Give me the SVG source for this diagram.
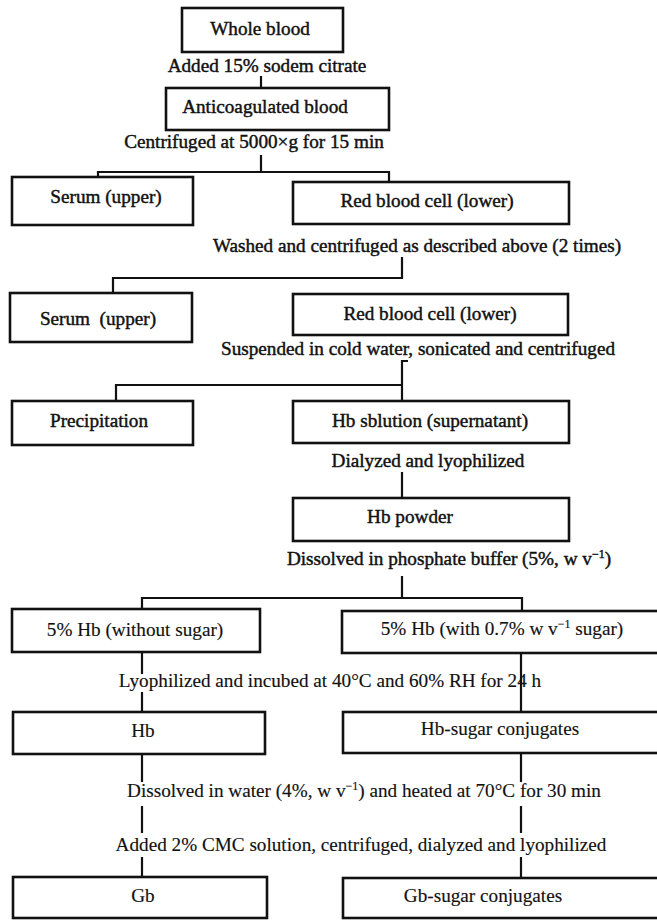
<svg xmlns="http://www.w3.org/2000/svg" width="657" height="920" viewBox="0 0 657 920">
<style>
.box{fill:#fff;stroke:#111;stroke-width:2.6}
.t{font-family:"Liberation Serif","Times New Roman",serif;font-size:19.2px;fill:#111;stroke:#111;stroke-width:0.45;text-anchor:middle}
.r{stroke-width:0.15}
.c{stroke:#111;stroke-width:2.2;fill:none}
</style>
<rect width="657" height="920" fill="#fff"/>
<g id="connectors">
<path class="c" d="M261 76V88"/>
<path class="c" d="M261 155V172M98 177V172H389V182"/>
<path class="c" d="M402 257V278H113V293"/>
<path class="c" d="M408 361H402V401M402 385H116V401"/>
<path class="c" d="M402 472V498"/>
<path class="c" d="M402 576V598M142 609V598H522V611"/>
<path class="c" d="M142 652V674M142 692V712M521 653V712"/>
<path class="c" d="M142 754V782M142 806V833M142 857V877"/>
<path class="c" d="M521 753V782M521 806V833M521 857V878"/>
</g>
<g id="labels">
<text class="t" x="267" y="72">Added 15% sodem citrate</text>
<text class="t" x="254" y="148">Centrifuged at 5000×g for 15 min</text>
<text class="t" x="417" y="252">Washed and centrifuged as described above (2 times)</text>
<text class="t" x="418" y="355">Suspended in cold water, sonicated and centrifuged</text>
<text class="t" x="428" y="467">Dialyzed and lyophilized</text>
<text class="t" x="449" y="565">Dissolved in phosphate buffer (5%, w v<tspan dy="-7" font-size="12">−1</tspan><tspan dy="7">)</tspan></text>
<text class="t r" x="330" y="687">Lyophilized and incubed at 40°C and 60% RH for 24 h</text>
<text class="t r" x="364" y="797">Dissolved in water (4%, w v<tspan dy="-7" font-size="12">−1</tspan><tspan dy="7">) and heated at 70°C for 30 min</tspan></text>
<text class="t r" x="361" y="851">Added 2% CMC solution, centrifuged, dialyzed and lyophilized</text>
</g>
<g id="whole-blood"><rect class="box" x="182" y="8" width="161" height="44"/><text class="t" x="260" y="35">Whole blood</text></g>
<g id="anticoagulated"><rect class="box" x="166" y="88" width="223" height="42"/><text class="t" x="265" y="113">Anticoagulated blood</text></g>
<g id="serum1"><rect class="box" x="12" y="177" width="181" height="48"/><text class="t" x="106" y="203">Serum (upper)</text></g>
<g id="rbc1"><rect class="box" x="293" y="182" width="276" height="42"/><text class="t" x="427" y="207">Red blood cell (lower)</text></g>
<g id="serum2"><rect class="box" x="10" y="293" width="182" height="49"/><text class="t" x="98" y="325" xml:space="preserve">Serum  (upper)</text></g>
<g id="rbc2"><rect class="box" x="293" y="294" width="275" height="41"/><text class="t" x="430" y="320">Red blood cell (lower)</text></g>
<g id="precipitation"><rect class="box" x="12" y="401" width="181" height="44"/><text class="t" x="99" y="427">Precipitation</text></g>
<g id="hb-solution"><rect class="box" x="293" y="401" width="276" height="42"/><text class="t" x="430" y="427">Hb sblution (supernatant)</text></g>
<g id="hb-powder"><rect class="box" x="293" y="498" width="276" height="43"/><text class="t" x="410" y="523">Hb powder</text></g>
<g id="hb-nosugar"><rect class="box" x="12" y="609" width="248" height="43"/><text class="t r" x="135" y="636">5% Hb (without sugar)</text></g>
<g id="hb-sugar"><rect class="box" x="342" y="611" width="320" height="42"/><text class="t r" x="502" y="635">5% Hb (with 0.7% w v<tspan dy="-7" font-size="12">−1</tspan><tspan dy="7"> sugar)</tspan></text></g>
<g id="hb"><rect class="box" x="13" y="712" width="252" height="42"/><text class="t r" x="143" y="737">Hb</text></g>
<g id="hb-sugar-conj"><rect class="box" x="343" y="712" width="320" height="41"/><text class="t r" x="500" y="735">Hb-sugar conjugates</text></g>
<g id="gb"><rect class="box" x="13" y="877" width="254" height="41"/><text class="t r" x="143" y="902">Gb</text></g>
<g id="gb-sugar-conj"><rect class="box" x="343" y="878" width="320" height="40"/><text class="t r" x="483" y="902">Gb-sugar conjugates</text></g>
</svg>
